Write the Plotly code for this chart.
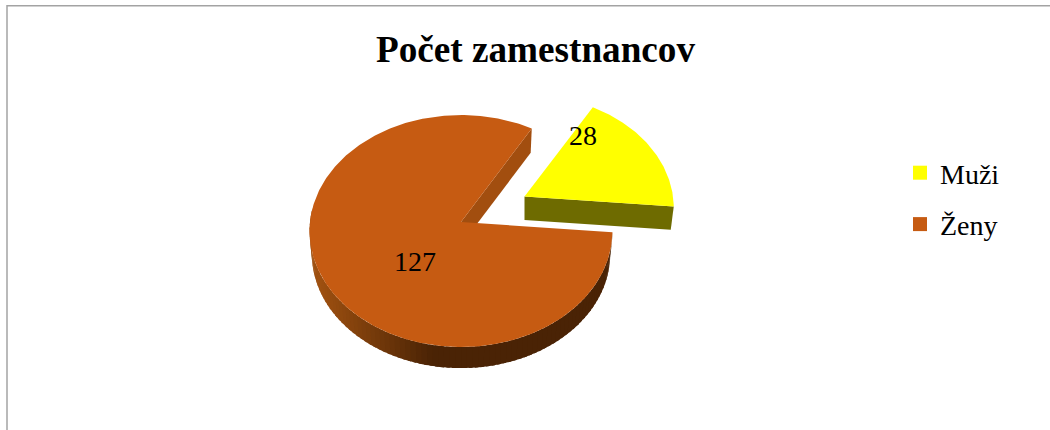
import math
import plotly.graph_objects as go

# Data
title_text = "Počet zamestnancov"
categories = ["Muži", "Ženy"]
values = [28, 127]

# Styles
FONT = "Liberation Serif"
top_colors = ["#FFFF00", "#C65B12"]
wall_colors = ["#6E6B00", "#A24E0F"]
start_angle = 30.0
total = sum(values)
sweep_muzi = 360.0 * values[0] / total

# Projection of each pie slice: apex, radii, perspective strength, depth, base shrink
VIEW_M = dict(cx=524.5, cy=196.5, rx=148.5, ry=112.0, k=0.10, depth=23.5, shrink=0.98)
VIEW_Z = dict(cx=461.0, cy=222.0, rx=151.0, ry=115.3, k=0.0776, depth=23.0, shrink=0.985)


def project(view, theta, r=1.0, lower=False):
    t = math.radians(theta)
    u, v = r * math.sin(t), r * math.cos(t)
    s = 1.0 / (1.0 + view["k"] * v)
    x = view["rx"] * u * s
    y = -view["ry"] * v * s
    if lower:
        x *= view["shrink"]
        y = y * view["shrink"] + view["depth"]
    return view["cx"] + x, view["cy"] + y


def arc(view, a, b, n=180, lower=False):
    pts = [project(view, a + (b - a) * i / n, lower=lower) for i in range(n + 1)]
    return pts


def poly(pts, color, name=None, width=0):
    xs = [p[0] for p in pts] + [pts[0][0]]
    ys = [p[1] for p in pts] + [pts[0][1]]
    return go.Scatter(
        x=xs, y=ys, mode="lines", fill="toself", fillcolor=color,
        line=dict(color=color, width=width), showlegend=False,
        name=name or "", hoverinfo="name" if name else "skip",
    )


def mix(c1, c2, t):
    return "rgb(%d,%d,%d)" % tuple(round(a + (b - a) * t) for a, b in zip(c1, c2))


fig = go.Figure()

# Ženy: inner wall seen through the gap, rim strips, top face
zs, ze = start_angle + sweep_muzi, start_angle + 360.0
apex = project(VIEW_Z, 0, 0)
apex_low = project(VIEW_Z, 0, 0, lower=True)
fig.add_trace(poly([apex, project(VIEW_Z, ze), project(VIEW_Z, ze, lower=True), apex_low], wall_colors[1]))

side_start, side_end = zs, 277.0
N = 90
for i in range(N):
    a = side_start + (side_end - side_start) * i / N
    b = side_start + (side_end - side_start) * (i + 1.6) / N
    b = min(b, side_end)
    x_mid = project(VIEW_Z, (a + b) / 2)[0]
    t = min(1.0, max(0.0, (x_mid - 318.0) / 112.0))
    col = mix((158, 80, 16), (74, 35, 5), t)
    fig.add_trace(poly(arc(VIEW_Z, a, b, 6) + arc(VIEW_Z, b, a, 6, lower=True), col))

fig.add_trace(poly([apex] + arc(VIEW_Z, zs, ze, 360), top_colors[1], name=categories[1]))

# Muži: front wall and top face
ms, me = start_angle, start_angle + sweep_muzi
m_apex = project(VIEW_M, 0, 0)
m_low = project(VIEW_M, 0, 0, lower=True)
fig.add_trace(poly([m_apex, project(VIEW_M, me), project(VIEW_M, me, lower=True), m_low], wall_colors[0]))
fig.add_trace(poly([m_apex] + arc(VIEW_M, ms, me, 120), top_colors[0], name=categories[0]))

# Data labels
label_pos = [(583, 138), (415, 264)]
fig.add_trace(go.Scatter(
    x=[p[0] for p in label_pos], y=[p[1] for p in label_pos],
    mode="text", text=[str(v) for v in values],
    textfont=dict(family=FONT, size=28, color="black"),
    textposition="middle center", showlegend=False, hoverinfo="skip",
))

# Legend entries
for i, (cat, col) in enumerate(zip(categories, top_colors)):
    fig.add_trace(go.Scatter(
        x=[None], y=[None], mode="markers", name=cat, legendgroup=cat,
        marker=dict(symbol="square", size=14, color=col),
    ))

border = "#A3A3A3"
fig.update_layout(
    width=1050, height=430,
    margin=dict(l=0, r=0, t=0, b=0),
    paper_bgcolor="white", plot_bgcolor="white",
    title=dict(text="<b>%s</b>" % title_text, x=535.5 / 1050, xanchor="center",
               y=1 - 49 / 430, yanchor="middle",
               font=dict(family=FONT, size=37.2, color="black")),
    xaxis=dict(range=[0, 1050], visible=False, fixedrange=True),
    yaxis=dict(range=[430, 0], visible=False, fixedrange=True),
    legend=dict(x=900 / 1050, y=1 - 148 / 430, xanchor="left", yanchor="top",
                bgcolor="rgba(0,0,0,0)", font=dict(family=FONT, size=28, color="black"),
                tracegroupgap=12, itemclick=False, itemdoubleclick=False),
    shapes=[
        dict(type="line", xref="x", yref="y", x0=7, x1=1050, y0=5.8, y1=5.8, line=dict(color=border, width=1.5)),
        dict(type="line", xref="x", yref="y", x0=7, x1=7, y0=5, y1=430, line=dict(color=border, width=1.5)),
    ],
)

fig.write_html("out.html", config=dict(displayModeBar=False),
               post_script="document.body.style.margin='0';document.body.style.overflow='hidden';")
